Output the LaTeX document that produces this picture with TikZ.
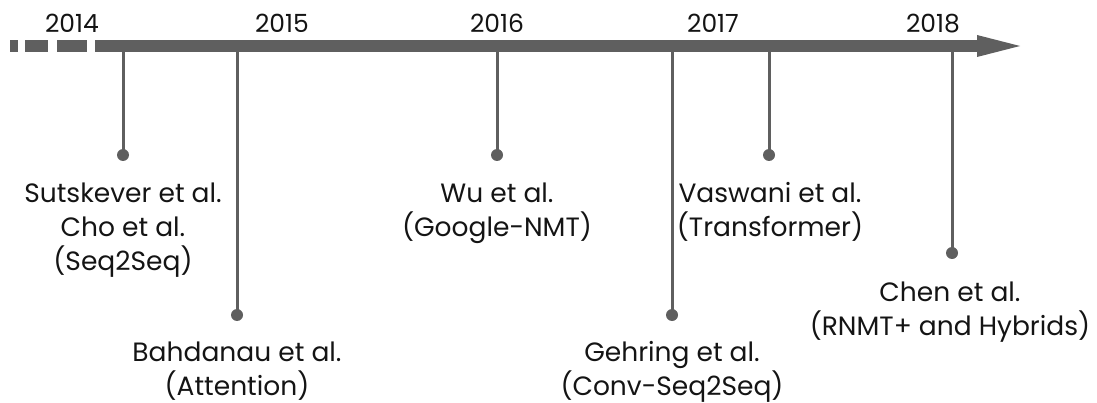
\documentclass[tikz,border=0pt]{standalone}
\usepackage{fontspec}
\setmainfont{Poppins}
\definecolor{axis}{HTML}{5F5F5F}
\definecolor{ink}{HTML}{141414}
\begin{document}
\begin{tikzpicture}[x=1pt,y=-1pt,
  year/.style={anchor=base,inner sep=0pt,text=ink,font=\fontsize{25}{30}\selectfont},
  paper/.style={anchor=base,inner sep=0pt,align=center,text=ink,font=\fontsize{26.5}{34}\selectfont},
  stem/.style={draw=axis,line width=3pt},
  dot/.style={circle,fill=axis,minimum size=12pt,inner sep=0pt}]
\useasboundingbox (0,0) rectangle (1097,403);

% dashed lead-in of the time axis
\foreach \a/\b in {10/18,25/48,57/87}
  \fill[axis] (\a,40) rectangle (\b,52);
% solid time axis with arrow head
\fill[axis] (95,40) rectangle (978,52);
\fill[axis] (977,35) -- (1020,46) -- (977,57) -- cycle;

% years
\node[year] (y14) at (72,33) {2014};
\node[year] (y15) at (282,33) {2015};
\node[year] (y16) at (497,33) {2016};
\node[year] (y17) at (713,33) {2017};
\node[year] (y18) at (933,33) {2018};

% anchor points on the axis
\coordinate (a1) at (123,52);
\coordinate (a2) at (237,52);
\coordinate (a3) at (497,52);
\coordinate (a4) at (672,52);
\coordinate (a5) at (769,52);
\coordinate (a6) at (952,52);

% markers
\node[dot] (d1) at (123,155) {};
\node[dot] (d2) at (237,315) {};
\node[dot] (d3) at (497,155) {};
\node[dot] (d4) at (672,315) {};
\node[dot] (d5) at (769,155) {};
\node[dot] (d6) at (952,253) {};

\foreach \i in {1,...,6}
  \draw[stem] (a\i) -- (d\i.center);

% papers (node base = baseline of the last line)
\node[paper] (p1) at (123,271) {Sutskever et al.\\Cho et al.\\(Seq2Seq)};
\node[paper] (p2) at (237,395) {Bahdanau et al.\\(Attention)};
\node[paper] (p3) at (497,237) {Wu et al.\\(Google-NMT)};
\node[paper] (p4) at (672,395) {Gehring et al.\\(Conv-Seq2Seq)};
\node[paper] (p5) at (770,237) {Vaswani et al.\\(Transformer)};
\node[paper] (p6) at (950,335) {Chen et al.\\(RNMT+ and Hybrids)};
\end{tikzpicture}
\end{document}
